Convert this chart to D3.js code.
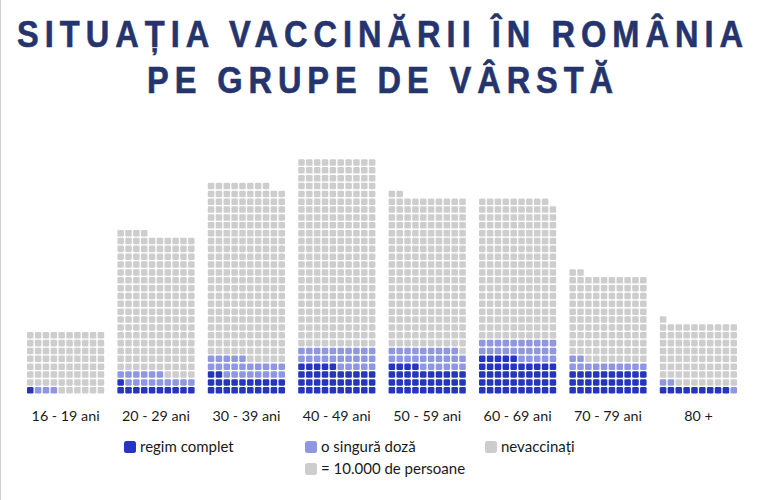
<!DOCTYPE html>
<html>
<head>
<meta charset="utf-8">
<script src="https://cdn.jsdelivr.net/npm/d3@7"></script>
<style>
  html, body { margin: 0; padding: 0; background: #fff; }
  svg { display: block; }
</style>
</head>
<body>
<svg id="chart" width="764" height="500"></svg>
<script>
// ---- data (1 square = 10.000 de persoane) ----
const categories = ["16 - 19 ani", "20 - 29 ani", "30 - 39 ani", "40 - 49 ani", "50 - 59 ani", "60 - 69 ani", "70 - 79 ani", "80 +"];
const regimComplet = [1, 11, 22, 35, 34, 45, 30, 9];
const singuraDoza = [3, 15, 23, 25, 25, 25, 12, 3];
const nevaccinati = [76, 178, 223, 240, 193, 179, 110, 79];
const seriesNames = ["regim complet", "o singură doză", "nevaccinați"];
const titleLines = ["SITUAȚIA VACCINĂRII ÎN ROMÂNIA", "PE GRUPE DE VÂRSTĂ"];
const unitLabel = "= 10.000 de persoane";

const colors = { "regim complet": "#2635bd", "o singură doză": "#8f97e1", "nevaccinați": "#cdcdcd" };
const perRow = 10;

const svg = d3.select("#chart");

// left border line like the reference frame
svg.append("line").attr("x1", 0.5).attr("x2", 0.5).attr("y1", 0).attr("y2", 500)
  .attr("stroke", "#cfcfcf").attr("stroke-width", 1);

// ---- title (slightly condensed, wide tracking) ----
const titleWidths = [726, 466];
const titleBaselines = [47, 93];
const squeeze = 0.88;
titleLines.forEach((t, i) => {
  const g = svg.append("g").attr("transform", `translate(380,0) scale(${squeeze},1)`);
  const txt = g.append("text")
    .attr("x", 0).attr("y", titleBaselines[i])
    .attr("text-anchor", "middle")
    .attr("font-family", "'Liberation Sans', Arial, sans-serif")
    .attr("font-weight", "bold")
    .attr("font-size", 37)
    .attr("fill", "#25346c")
    .attr("stroke", "#25346c")
    .attr("stroke-width", 0.6)
    .text(t);
  const natural = txt.node().getComputedTextLength();
  const n = [...t].length;
  const ls = (titleWidths[i] / squeeze - natural) / (n - 1);
  txt.attr("letter-spacing", ls + "px").attr("x", ls / 2);
});

// ---- scales ----
const x = d3.scaleBand().domain(categories).range([27, 737]).paddingInner(0.146).paddingOuter(0);
const col = d3.scaleBand().domain(d3.range(perRow)).range([0, x.bandwidth()]).paddingInner(0.17).paddingOuter(0);
const sq = col.bandwidth();
const pitch = col.step();
const bottom = 393.5;
const maxRows = 40;
const rowY = d3.scaleLinear().domain([0, maxRows]).range([bottom - sq, bottom - sq - maxRows * pitch]);

// ---- build cells ----
const cells = [];
categories.forEach((c, gi) => {
  const counts = [regimComplet[gi], singuraDoza[gi], nevaccinati[gi]];
  let idx = 0;
  counts.forEach((n, si) => {
    for (let k = 0; k < n; k++) {
      cells.push({ cat: c, series: seriesNames[si], i: idx });
      idx++;
    }
  });
});

svg.append("g").selectAll("rect").data(cells).join("rect")
  .attr("x", d => x(d.cat) + col(d.i % perRow))
  .attr("y", d => rowY(Math.floor(d.i / perRow)))
  .attr("width", sq).attr("height", sq)
  .attr("rx", 1.3).attr("ry", 1.3)
  .attr("fill", d => colors[d.series]);

// ---- category labels (axis) ----
const axis = d3.axisBottom(x).tickSize(0).tickPadding(0);
const ag = svg.append("g").attr("transform", "translate(0,411)").call(axis);
ag.select(".domain").remove();
ag.selectAll("text")
  .attr("font-family", "Lato, 'Open Sans', sans-serif")
  .attr("font-size", 14.3)
  .attr("fill", "#1a1a1a");

// ---- legend ----
const legendItems = [
  { label: seriesNames[0], color: colors[seriesNames[0]], x: 124, y: 441 },
  { label: seriesNames[1], color: colors[seriesNames[1]], x: 305, y: 441 },
  { label: seriesNames[2], color: colors[seriesNames[2]], x: 485, y: 441 },
  { label: unitLabel, color: colors[seriesNames[2]], x: 305, y: 463 }
];
const lg = svg.append("g").selectAll("g").data(legendItems).join("g")
  .attr("transform", d => `translate(${d.x},${d.y})`);
lg.append("rect").attr("width", 12).attr("height", 12).attr("rx", 2.5)
  .attr("fill", d => d.color);
lg.append("text").attr("x", 16).attr("y", 11)
  .attr("font-family", "Lato, 'Open Sans', sans-serif")
  .attr("font-size", 15)
  .attr("fill", "#1a1a1a")
  .text(d => d.label);
</script>
</body>
</html>
